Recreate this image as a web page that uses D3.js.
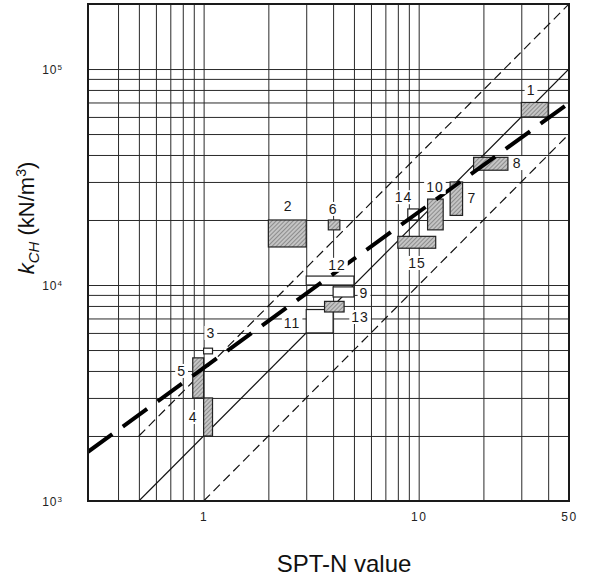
<!DOCTYPE html>
<html><head><meta charset="utf-8">
<script src="https://cdn.jsdelivr.net/npm/d3@7"></script>
<style>body{margin:0;background:#fff}</style>
</head><body>
<svg id="chart" width="591" height="579"></svg>
<script>
// ---- data ----
const xTickValues = [1, 10, 50];
const xTickLabels = ["1", "10", "50"];
const yTickValues = [1000, 10000, 100000];
const yTickExponents = ["3", "4", "5"];
const xGridValues = [0.4, 0.5, 0.6, 0.7, 0.8, 0.9, 1, 2, 3, 4, 5, 6, 7, 8, 9, 10, 20, 30, 40];
const yGridValues = [2000, 3000, 4000, 5000, 6000, 7000, 8000, 9000,
  10000, 20000, 30000, 40000, 50000, 60000, 70000, 80000, 90000, 100000];

const boxIds    = ["1", "2", "3", "4", "5", "6", "7", "8", "9", "10", "11", "12", "13", "14", "15"];
const boxNMin   = [30, 2, 1.0, 1.0, 0.89, 3.8, 14, 18, 4, 11, 3, 3, 3.65, 8.9, 8];
const boxNMax   = [40, 3, 1.1, 1.1, 1.0, 4.3, 16, 26, 5, 13, 4, 5, 4.5, 10, 12];
const boxKMin   = [60000, 15000, 4800, 2000, 3000, 18000, 21000, 34000, 8800, 18000, 6000, 10000, 7500, 20000, 14800];
const boxKMax   = [70000, 20000, 5100, 3000, 4600, 20000, 30000, 39000, 9800, 25000, 7700, 11000, 8400, 22500, 16800];
const boxShaded = [true, true, false, true, true, true, true, true, false, true, false, false, true, false, true];

const labelText = ["1", "2", "3", "4", "5", "6", "7", "8", "9", "10", "11", "12", "13", "14", "15"];
const labelN    = [33.3, 2.47, 1.08, 0.893, 0.79, 4.0, 17.7, 28.7, 5.57, 11.9, 2.58, 4.17, 5.34, 8.5, 9.83];
const labelK    = [80000, 23200, 6000, 2450, 4000, 22500, 25300, 36700, 9180, 28400, 6670, 12400, 7110, 25500, 12650];

const solidLineN = [0.5, 50],  solidLineK = [1000, 100000];
const upperLineN = [0.5, 50],  upperLineK = [2000, 200000];
const lowerLineN = [1, 50],    lowerLineK = [1000, 50000];
const fitLineN   = [0.29, 50], fitLineK   = [1690, 69600];

// ---- layout ----
const L = 88, R = 569, T = 4, B = 501;
const FONT = "Liberation Sans, Arial, sans-serif";
const svg = d3.select("#chart");
const x = d3.scaleLog().domain([0.29, 50]).range([L, R]);
const y = d3.scaleLog().domain([1000, 200000]).range([B, T]);

const defs = svg.append("defs");
const pat = defs.append("pattern").attr("id", "hatch").attr("patternUnits", "userSpaceOnUse")
  .attr("width", 3).attr("height", 3).attr("patternTransform", "rotate(45)");
pat.append("rect").attr("width", 3).attr("height", 3).attr("fill", "#c4c4c4");
pat.append("line").attr("x1", 0).attr("y1", 0).attr("x2", 0).attr("y2", 3)
  .attr("stroke", "#666").attr("stroke-width", 1.2);
defs.append("clipPath").attr("id", "clip").append("rect")
  .attr("x", L).attr("y", T).attr("width", R - L).attr("height", B - T);

// grid
const gx = svg.append("g").attr("transform", `translate(0,${B})`)
  .call(d3.axisBottom(x).tickValues(xGridValues).tickSize(-(B - T)).tickFormat(""));
const gy = svg.append("g").attr("transform", `translate(${L},0)`)
  .call(d3.axisLeft(y).tickValues(yGridValues).tickSize(-(R - L)).tickFormat(""));
[gx, gy].forEach(g => {
  g.select(".domain").remove();
  g.selectAll(".tick line").attr("stroke", "#2a2a2a").attr("stroke-width", 1);
});

const plot = svg.append("g").attr("clip-path", "url(#clip)");
const line = d3.line().x(d => x(d[0])).y(d => y(d[1]));

// reference lines
plot.append("path").attr("d", line(d3.zip(solidLineN, solidLineK)))
  .attr("fill", "none").attr("stroke", "#111").attr("stroke-width", 1.2);
plot.append("path").attr("d", line(d3.zip(upperLineN, upperLineK)))
  .attr("fill", "none").attr("stroke", "#111").attr("stroke-width", 1.2).attr("stroke-dasharray", "9,5");
plot.append("path").attr("d", line(d3.zip(lowerLineN, lowerLineK)))
  .attr("fill", "none").attr("stroke", "#111").attr("stroke-width", 1.2).attr("stroke-dasharray", "9,5");

// boxes
const boxes = boxIds.map((id, i) => ({id, n0: boxNMin[i], n1: boxNMax[i], k0: boxKMin[i], k1: boxKMax[i], s: boxShaded[i]}));
plot.selectAll("rect.box").data(boxes).join("rect").attr("class", "box")
  .attr("x", d => x(d.n0)).attr("y", d => y(d.k1))
  .attr("width", d => x(d.n1) - x(d.n0)).attr("height", d => y(d.k0) - y(d.k1))
  .attr("fill", d => d.s ? "url(#hatch)" : "#fff")
  .attr("stroke", "#222").attr("stroke-width", 1.2);

// fitted thick dashed line
plot.append("path").attr("d", line(d3.zip(fitLineN, fitLineK)))
  .attr("fill", "none").attr("stroke", "#000").attr("stroke-width", 4).attr("stroke-dasharray", "30,13");

// labels with white backing (gridlines interrupted around them)
const lg = svg.append("g");
labelText.forEach((t, i) => {
  const g = lg.append("g");
  const bg = g.append("rect").attr("fill", "#fff");
  const tx = g.append("text").attr("x", x(labelN[i])).attr("y", y(labelK[i]))
    .attr("text-anchor", "middle").attr("dominant-baseline", "central")
    .attr("font-family", FONT).attr("font-size", 14).attr("letter-spacing", 1)
    .attr("fill", "#1a1a1a").text(t);
  const bb = tx.node().getBBox();
  bg.attr("x", bb.x - 2).attr("y", bb.y + 1).attr("width", bb.width + 4).attr("height", bb.height - 2);
});

// frame
svg.append("rect").attr("x", L).attr("y", T).attr("width", R - L).attr("height", B - T)
  .attr("fill", "none").attr("stroke", "#1a1a1a").attr("stroke-width", 2);

// axes tick labels
const ax = svg.append("g").attr("transform", `translate(0,${B + 16})`)
  .call(d3.axisBottom(x).tickValues(xTickValues).tickSize(0).tickPadding(0)
    .tickFormat((d, i) => xTickLabels[i]));
ax.select(".domain").remove();
ax.selectAll("text").attr("font-family", FONT)
  .attr("font-size", 12).attr("letter-spacing", 1.5).attr("fill", "#222")
  .attr("dy", "0.35em").attr("y", 0);

const ay = svg.append("g").attr("transform", `translate(${L - 25},0)`)
  .call(d3.axisLeft(y).tickValues(yTickValues).tickSize(0).tickPadding(0).tickFormat(""));
ay.select(".domain").remove();
ay.selectAll(".tick").each(function(d, i) {
  const t = d3.select(this).append("text").attr("text-anchor", "end")
    .attr("font-family", FONT).attr("font-size", 12)
    .attr("fill", "#222").attr("dy", "0.38em").attr("letter-spacing", 1);
  t.append("tspan").text("10");
  t.append("tspan").attr("font-size", 8).attr("dy", "-0.55em").text(yTickExponents[i]);
});

// axis titles
svg.append("text").attr("x", 344).attr("y", 572).attr("text-anchor", "middle")
  .attr("font-family", FONT).attr("font-size", 24)
  .attr("fill", "#111").text("SPT-N value");

const yt = svg.append("text").attr("transform", "translate(34,218) rotate(-90)")
  .attr("text-anchor", "middle").attr("font-family", FONT)
  .attr("font-size", 22).attr("fill", "#111");
yt.append("tspan").attr("font-style", "italic").text("k");
yt.append("tspan").attr("font-style", "italic").attr("font-size", 15).attr("dy", 5).text("CH");
yt.append("tspan").attr("dy", -5).text(" (kN/m");
yt.append("tspan").attr("font-size", 14).attr("dy", -8).text("3");
yt.append("tspan").attr("dy", 8).text(")");
</script>
</body></html>
